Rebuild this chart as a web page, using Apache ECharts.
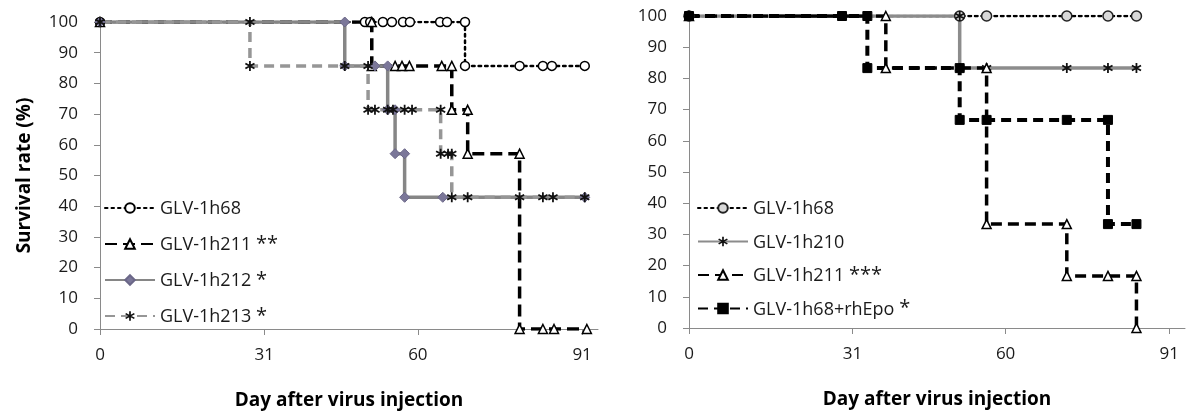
<!DOCTYPE html>
<html><head><meta charset="utf-8">
<script src="https://cdn.jsdelivr.net/npm/echarts@6/dist/echarts.min.js"></script>
<style>html,body{margin:0;padding:0;background:#fff}#c{width:1192px;height:417px}</style>
</head><body><div id="c"></div><script>
// ---- data ----
const xTickValues = [0, 31, 60, 91];
const xAxisTitle = 'Day after virus injection';
const yAxisTitle = 'Survival rate (%)';

// Left panel (7 mice per group)
const leftNames = ['GLV-1h68', 'GLV-1h211 **', 'GLV-1h212 *', 'GLV-1h213 *'];
const left1h68 = [[0,100],[50,100],[51,100],[53.4,100],[55.1,100],[57.2,100],[58.5,100],[64.2,100],[65.5,100],[68.9,100],[68.9,85.7],[79.2,85.7],[83.6,85.7],[85.3,85.7],[91.5,85.7]];
const left1h211 = [[0,100],[51.3,100],[51.3,85.7],[55.7,85.7],[57,85.7],[58.4,85.7],[64.5,85.7],[66.4,85.7],[66.4,71.4],[69.4,71.4],[69.4,57.1],[79.2,57.1],[79.2,0],[83.6,0],[85.7,0],[91.9,0]];
const left1h212 = [[0,100],[46.2,100],[46.2,85.7],[51.9,85.7],[54.3,85.7],[54.3,71.4],[55.7,71.4],[55.7,57.1],[57.5,57.1],[57.5,42.9],[64.7,42.9],[91.5,42.9]];
const left1h213 = [[0,100],[28.3,100],[28.3,85.7],[46.2,85.7],[50.6,85.7],[50.6,71.4],[51.9,71.4],[54.3,71.4],[55.3,71.4],[57.5,71.4],[58.9,71.4],[64.3,71.4],[64.3,57.1],[65.7,57.1],[66.4,57.1],[66.4,42.9],[69.4,42.9],[79.2,42.9],[83.6,42.9],[85.5,42.9],[91.5,42.9]];

// Right panel (6 mice per group)
const rightNames = ['GLV-1h68 ', 'GLV-1h210', 'GLV-1h211 ***', 'GLV-1h68+rhEpo *'];
const right1h68 = [[0,100],[51.3,100],[56.4,100],[71.6,100],[79.4,100],[84.8,100]];
const right1h210 = [[0,100],[51.3,100],[51.3,83.3],[56.4,83.3],[71.6,83.3],[79.4,83.3],[84.8,83.3]];
const right1h211 = [[0,100],[37.3,100],[37.3,83.3],[56.4,83.3],[56.4,33.3],[71.6,33.3],[71.6,16.7],[79.4,16.7],[84.8,16.7],[84.8,0]];
const rightEpo = [[0,100],[29,100],[33.8,100],[33.8,83.3],[51.3,83.3],[51.3,66.7],[56.4,66.7],[71.6,66.7],[79.4,66.7],[79.4,33.3],[84.8,33.3]];

// ---- drawing ----
const FONT = '"Open Sans", Lato, sans-serif';
const AST = 'path://M8.3,0h3.4v20h-3.4Z M17.81,16.47L0.49,6.47L2.19,3.53L19.51,13.53Z M19.51,6.47L2.19,16.47L0.49,13.53L17.81,3.53Z';
const axisGray = '#8a8a8a';

function xAxis(gi) {
  return {
    type: 'value', gridIndex: gi, min: 0, max: 94,
    axisLine: {show: true, lineStyle: {color: axisGray, width: 1}},
    axisTick: {show: true, length: 6, lineStyle: {color: axisGray}, customValues: xTickValues},
    axisLabel: {color: '#1a1a1a', fontSize: 17, fontFamily: FONT, margin: 18, customValues: xTickValues},
    splitLine: {show: false},
    name: xAxisTitle, nameLocation: 'middle', nameGap: 62,
    nameTextStyle: {fontFamily: FONT, fontSize: 19, fontWeight: 'bold', color: '#000'}
  };
}
function yAxis(gi, showName) {
  const a = {
    type: 'value', gridIndex: gi, min: 0, max: 100, interval: 10,
    axisLine: {show: true, lineStyle: {color: axisGray, width: 1}},
    axisTick: {show: true, length: 6, lineStyle: {color: axisGray}},
    axisLabel: {color: '#1a1a1a', fontSize: 17, fontFamily: FONT, margin: 22},
    splitLine: {show: false}
  };
  if (showName) {
    a.name = yAxisTitle; a.nameLocation = 'middle'; a.nameGap = 66; a.nameRotate = 90;
    a.nameTextStyle = {fontFamily: FONT, fontSize: 19, fontWeight: 'bold', color: '#000'};
  }
  return a;
}
function ser(name, data, gi, opts) {
  return Object.assign({
    type: 'line', name: name, data: data, xAxisIndex: gi, yAxisIndex: gi,
    showSymbol: true, showAllSymbol: true, animation: false, smooth: false
  }, opts);
}
function legendFmt(n) {
  const t = n.trim();
  const m = t.match(/^(.*?)(\*+)$/);
  return m ? '{t|' + m[1] + '}{s|' + m[2] + '}' : '{t|' + t + '}';
}
const legendText = {
  fontFamily: FONT, fontSize: 18, color: '#1a1a1a', lineHeight: 20,
  rich: {
    t: {fontFamily: FONT, fontSize: 18, color: '#1a1a1a', lineHeight: 20, verticalAlign: 'bottom'},
    s: {fontFamily: FONT, fontSize: 20, color: '#1a1a1a', lineHeight: 11, verticalAlign: 'bottom'}
  }
};

const dotted = {color: '#000', width: 2.5, type: [2.5, 4], cap: 'round'};
const longDash = {color: '#000', width: 3.5, type: [12, 6]};
const graySolid = {color: '#868686', width: 3.5, type: 'solid'};
const grayDash = {color: '#969696', width: 3.5, type: [10, 6]};

const option = {
  backgroundColor: '#fff',
  animation: false,
  grid: [
    {left: 100, right: 594, top: 22, bottom: 88},
    {left: 689, right: 7, top: 16, bottom: 89}
  ],
  xAxis: [xAxis(0), xAxis(1)],
  yAxis: [yAxis(0, true), yAxis(1, false)],
  legend: [
    {data: leftNames, orient: 'vertical', left: 99, top: 193, itemWidth: 50, itemHeight: 12, itemGap: 16,
     textStyle: legendText, formatter: legendFmt, selectedMode: false},
    {data: rightNames, orient: 'vertical', left: 692, top: 193, itemWidth: 50, itemHeight: 12, itemGap: 13.5,
     textStyle: legendText, formatter: legendFmt, selectedMode: false}
  ],
  series: [
    ser(leftNames[0], left1h68, 0, {symbol: 'circle', symbolSize: 9, lineStyle: dotted, itemStyle: {color: '#fff', borderColor: '#000', borderWidth: 1.5}}),
    ser(leftNames[1], left1h211, 0, {symbol: 'triangle', symbolSize: 9, lineStyle: longDash, itemStyle: {color: '#fff', borderColor: '#000', borderWidth: 1.5}}),
    ser(leftNames[2], left1h212, 0, {symbol: 'diamond', symbolSize: 10, lineStyle: graySolid, itemStyle: {color: '#7b7799', borderColor: '#6b6788', borderWidth: 1}}),
    ser(leftNames[3], left1h213, 0, {symbol: AST, symbolSize: 10, lineStyle: grayDash, itemStyle: {color: '#111', borderWidth: 0}}),
    ser(rightNames[0], right1h68, 1, {symbol: 'circle', symbolSize: 10, lineStyle: dotted, itemStyle: {color: '#d9d9d9', borderColor: '#222', borderWidth: 1.5}}),
    ser(rightNames[1], right1h210, 1, {symbol: AST, symbolSize: 10, lineStyle: {color: '#8c8c8c', width: 3.5, type: 'solid'}, itemStyle: {color: '#111', borderWidth: 0}}),
    ser(rightNames[2], right1h211, 1, {symbol: 'triangle', symbolSize: 9, lineStyle: {color: '#000', width: 3.5, type: [11, 6]}, itemStyle: {color: '#fff', borderColor: '#000', borderWidth: 1.5}}),
    ser(rightNames[3], rightEpo, 1, {symbol: 'rect', symbolSize: 9, lineStyle: {color: '#000', width: 4, type: [10, 6]}, itemStyle: {color: '#000', borderColor: '#000', borderWidth: 1}})
  ]
};
const chart = echarts.init(document.getElementById('c'), null, {renderer: 'canvas'});
chart.setOption(option);
</script></body></html>
